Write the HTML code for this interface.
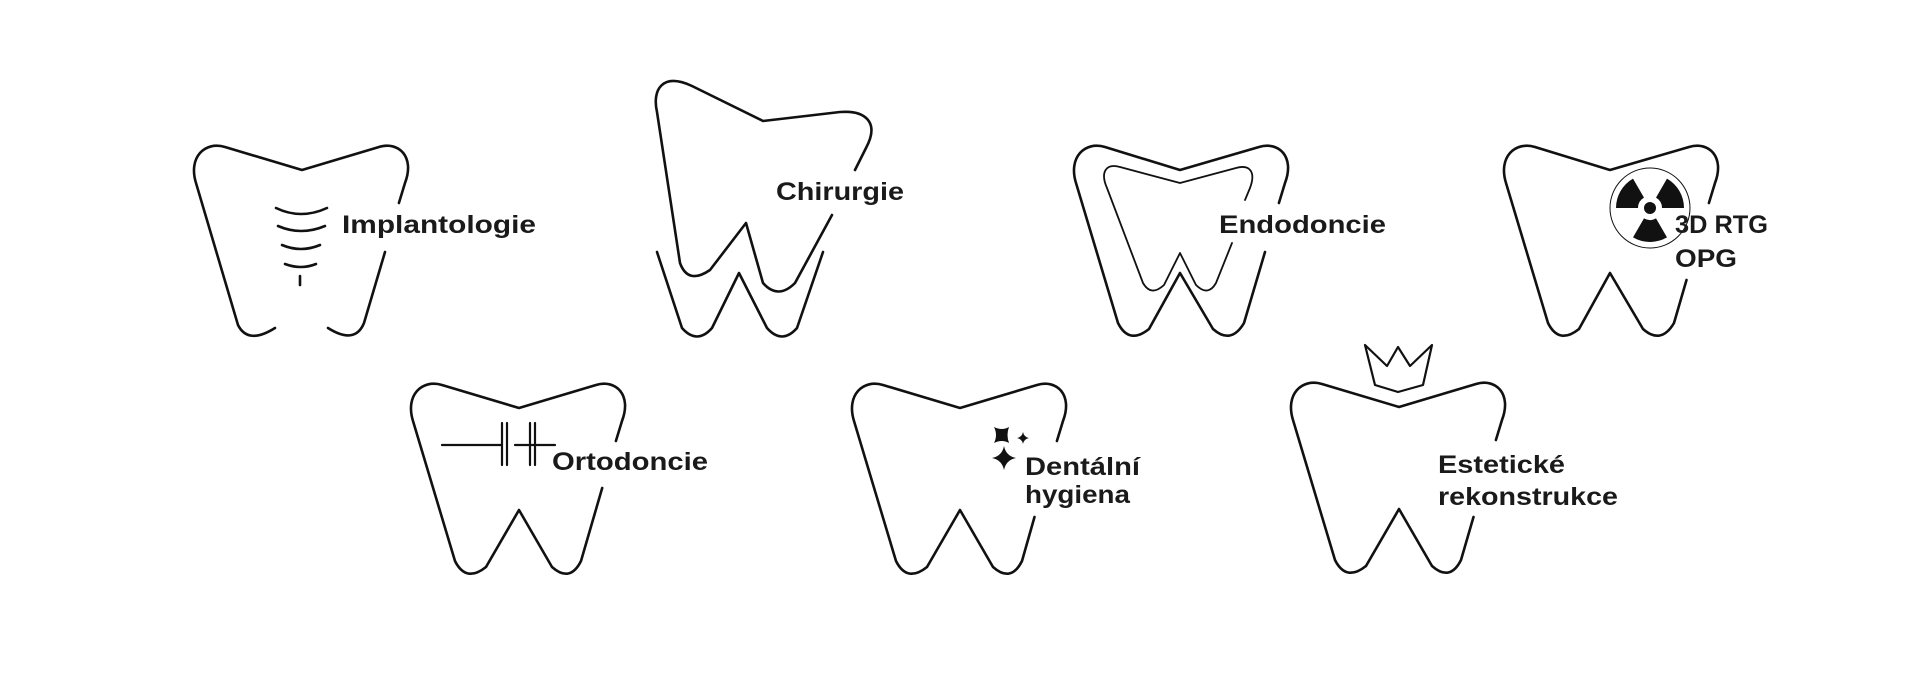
<!DOCTYPE html>
<html><head><meta charset="utf-8"><style>
html,body{margin:0;padding:0;background:#fff;}
svg{display:block;}
text{font-family:"Liberation Sans",sans-serif;font-weight:bold;fill:#1a1a1a;}
</style></head><body>
<svg width="1920" height="675" viewBox="0 0 1920 675" xmlns="http://www.w3.org/2000/svg">
<g fill="none" stroke="#111" stroke-width="2.6" stroke-linecap="round" stroke-linejoin="round">
<!-- Tooth 1 Implantologie -->
<g transform="translate(193,145)">
<path d="M205.9,58 L212,38 C222,12 206,-4 186,2 L109,25 L32,2 C12,-4 -5,12 3,38 L45,180 Q55,200 82,183"/>
<path d="M135,183 Q162,200 171,178 L192,107"/>
</g>
<path d="M276,208 Q301,220 327,208 M278,226 Q301,236 325,226 M282,245 Q301,253 320,245 M285,264 Q301,270 316,264 M300,276 L300,285"/>
<!-- Tooth 2 Chirurgie -->
<path d="M855,170 L866,148 C880,122 865,110 840,112 L763,121 L692,86 C662,72 652,90 657,112 L680,263 Q688,285 710,270 L746,223 L763,283 Q778,300 795,283 L832,215"/>
<path d="M657,252 L682,328 Q697,345 712,328 L739,273 L767,328 Q782,345 797,328 L823,252"/>
<!-- Tooth 3 Endodoncie -->
<g transform="translate(1073,145)">
<path d="M205.9,58 L212,38 C222,12 206,-4 186,2 L107,25 L32,2 C12,-4 -5,12 3,38 L45,178 Q56,200 76,184 L107,128 L140,184 Q158,200 171,178 L192,107"/>
</g>
<path stroke-width="1.8" d="M1245,200 L1250,188 C1256,172 1250,164 1236,168 L1180,183 L1120,167 C1106,163 1100,172 1107,188 L1143,283 Q1151,297 1164,285 L1180,253 L1196,285 Q1208,297 1216,283 L1232,243"/>
<!-- Tooth 4 3D RTG -->
<g transform="translate(1503,145)">
<path d="M205.9,58 L212,38 C222,12 206,-4 186,2 L107,25 L32,2 C12,-4 -5,12 3,38 L45,178 Q56,200 76,184 L107,128 L140,184 Q158,200 171,178 L183.5,135"/>
</g>
<!-- Tooth 5 Ortodoncie -->
<g transform="translate(410,383)">
<path d="M205.9,58 L212,38 C222,12 206,-4 186,2 L109,25 L32,2 C12,-4 -5,12 3,38 L45,178 Q56,200 76,184 L109,127 L142,184 Q160,200 171,178 L192.2,105"/>
</g>
<!-- Tooth 6 Dentalni -->
<g transform="translate(851,383)">
<path d="M205.9,58 L212,38 C222,12 206,-4 186,2 L109,25 L32,2 C12,-4 -5,12 3,38 L45,178 Q56,200 76,184 L109,127 L142,184 Q160,200 171,178 L183.5,134"/>
</g>
<!-- Tooth 7 Estetické -->
<g transform="translate(1290,382)">
<path d="M205.9,58 L212,38 C222,12 206,-4 186,2 L109,25 L32,2 C12,-4 -5,12 3,38 L45,178 Q56,200 76,184 L109,127 L142,184 Q160,200 171,178 L183.5,135"/>
</g>
<path stroke-width="2.2" d="M1365,345 L1387,366 L1398,347 L1410,366 L1432,345 L1423,385 L1398,392 L1375,385 Z"/>
<!-- ortho symbol -->
<path stroke-width="2.2" d="M442,445 L502,445 M502,423 L502,465 M507,423 L507,465 M515,445 L555,445 M530,423 L530,465 M535,423 L535,465"/>
<!-- radiation circle -->
<circle cx="1650" cy="208" r="40" stroke-width="1"/>
</g>
<g fill="#111">
<path d="M1656,218.4 L1667,237.4 A34 34 0 0 1 1633,237.4 L1644,218.4 A12 12 0 0 0 1656,218.4Z"/>
<path d="M1656,197.6 L1667,178.6 A34 34 0 0 1 1684,208 L1662,208 A12 12 0 0 0 1656,197.6Z"/>
<path d="M1638,208 L1616,208 A34 34 0 0 1 1633,178.6 L1644,197.6 A12 12 0 0 0 1638,208Z"/>
<circle cx="1650" cy="208" r="6"/>
<!-- sparkles -->
<path d="M1004,446 Q1006,456 1016,458 Q1006,460 1004,470 Q1002,460 992,458 Q1002,456 1004,446Z"/>
<path d="M994,427 Q1002,431 1009,427 Q1006,435 1009,443 Q1002,439 994,443 Q998,435 994,427Z"/>
<path d="M1023,432 Q1024,437 1029,438 Q1024,439 1023,444 Q1022,439 1017,438 Q1022,437 1023,432Z"/>
</g>
<text x="342" y="233" font-size="25" textLength="194" lengthAdjust="spacingAndGlyphs">Implantologie</text>
<text x="776" y="200" font-size="25" textLength="128" lengthAdjust="spacingAndGlyphs">Chirurgie</text>
<text x="1219" y="233" font-size="25" textLength="167" lengthAdjust="spacingAndGlyphs">Endodoncie</text>
<text x="1675" y="233" font-size="25" textLength="93" lengthAdjust="spacingAndGlyphs">3D RTG</text>
<text x="1675" y="267" font-size="25" textLength="62" lengthAdjust="spacingAndGlyphs">OPG</text>
<text x="552" y="470" font-size="25" textLength="156" lengthAdjust="spacingAndGlyphs">Ortodoncie</text>
<text x="1025" y="475" font-size="25" textLength="115" lengthAdjust="spacingAndGlyphs">Dentální</text>
<text x="1025" y="503" font-size="25" textLength="105" lengthAdjust="spacingAndGlyphs">hygiena</text>
<text x="1438" y="473" font-size="25" textLength="127" lengthAdjust="spacingAndGlyphs">Estetické</text>
<text x="1438" y="505" font-size="25" textLength="180" lengthAdjust="spacingAndGlyphs">rekonstrukce</text>
</svg>
</body></html>
